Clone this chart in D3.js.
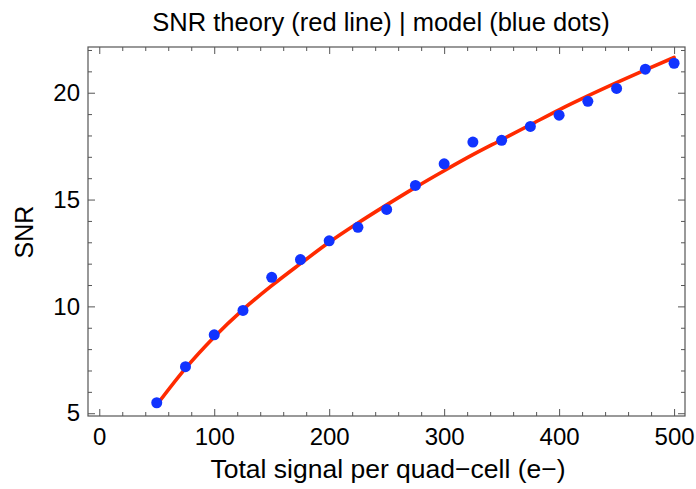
<!DOCTYPE html>
<html>
<head>
<meta charset="utf-8">
<script src="https://cdn.jsdelivr.net/npm/d3@7/dist/d3.min.js"></script>
<style>
  body { margin: 0; background: #fff; }
  svg { display: block; font-family: "Liberation Sans", Arial, sans-serif; }
  .frame { fill: none; stroke: #555; stroke-width: 1.2; }
  .tick line { stroke: #555; }
  .tick text { fill: #000; font-size: 24px; }
</style>
</head>
<body>
<svg id="chart" width="696" height="489"></svg>
<script>
// model points (blue dots)
const signal = [50, 75, 100, 125, 150, 175, 200, 225, 250, 275, 300, 325, 350, 375, 400, 425, 450, 475, 500]
const snrModel = [5.49, 7.18, 8.67, 9.81, 11.36, 12.19, 13.07, 13.7, 14.54, 15.66, 16.67, 17.69, 17.77, 18.42, 18.95, 19.6, 20.2, 21.1, 21.38]

// theory curve (red line)
const theoryX = [50, 75, 100, 125, 150, 175, 200, 225, 250, 275, 300, 325, 350, 375, 400, 425, 450, 475, 500]
const theoryY = [5.39, 7.1, 8.57, 9.85, 10.97, 12.0, 13.0, 13.9, 14.75, 15.57, 16.35, 17.1, 17.8, 18.5, 19.2, 19.85, 20.47, 21.07, 21.65]

const xTicks = [0, 100, 200, 300, 400, 500]
const yTicks = [5, 10, 15, 20]

const title = 'SNR theory (red line) | model (blue dots)'
const xLabel = 'Total signal per quad\u2212cell (e\u2212)'
const yLabel = 'SNR'

const plotLeft = 88, plotRight = 685, plotTop = 47, plotBottom = 416

const svg = d3.select('#chart')

const x = d3.scaleLinear().domain([-9.8, 509.5]).range([plotLeft, plotRight])
const y = d3.scaleLinear().domain([4.87, 22.14]).range([plotBottom, plotTop])

const minorX = d3.range(0, 501, 20).filter(d => d % 100 !== 0)
const minorY = d3.range(5, 23, 1).filter(d => d % 5 !== 0)

const drawAxis = (axisFn, scale, transform, major, minor, showLabels, pad) => {
	const gMinor = svg.append('g')
		.attr('transform', transform)
		.call(axisFn(scale).tickValues(minor).tickSize(-4).tickFormat(''))
	gMinor.select('.domain').remove()

	const gMajor = svg.append('g')
		.attr('transform', transform)
		.call(axisFn(scale).tickValues(major).tickSize(-7).tickPadding(pad)
			.tickFormat(showLabels ? d3.format('d') : ''))
	gMajor.select('.domain').remove()
	gMajor.attr('font-family', null).attr('font-size', null)
	return gMajor
}

drawAxis(d3.axisBottom, x, `translate(0,${plotBottom})`, xTicks, minorX, true, 12)
drawAxis(d3.axisTop, x, `translate(0,${plotTop})`, xTicks, minorX, false, 12)
drawAxis(d3.axisLeft, y, `translate(${plotLeft},0)`, yTicks, minorY, true, 8)
drawAxis(d3.axisRight, y, `translate(${plotRight},0)`, yTicks, minorY, false, 8)

svg.append('rect')
	.attr('class', 'frame')
	.attr('x', plotLeft)
	.attr('y', plotTop)
	.attr('width', plotRight - plotLeft)
	.attr('height', plotBottom - plotTop)

const line = d3.line()
	.x(d => x(d[0]))
	.y(d => y(d[1]))
	.curve(d3.curveMonotoneX)

svg.append('path')
	.datum(d3.zip(theoryX, theoryY))
	.attr('d', line)
	.attr('fill', 'none')
	.attr('stroke', '#ff2a00')
	.attr('stroke-width', 3.6)
	.attr('stroke-linecap', 'round')

svg.append('g')
	.selectAll('circle')
	.data(d3.zip(signal, snrModel))
	.enter()
	.append('circle')
	.attr('cx', d => x(d[0]))
	.attr('cy', d => y(d[1]))
	.attr('r', 5.5)
	.attr('fill', '#1133ff')

svg.append('text')
	.attr('x', 381)
	.attr('y', 31)
	.attr('text-anchor', 'middle')
	.attr('font-size', 25.5)
	.text(title)

svg.append('text')
	.attr('x', 388)
	.attr('y', 478)
	.attr('text-anchor', 'middle')
	.attr('font-size', 26.5)
	.text(xLabel)

svg.append('text')
	.attr('transform', `translate(33,232) rotate(-90)`)
	.attr('text-anchor', 'middle')
	.attr('font-size', 25)
	.text(yLabel)
</script>
</body>
</html>
